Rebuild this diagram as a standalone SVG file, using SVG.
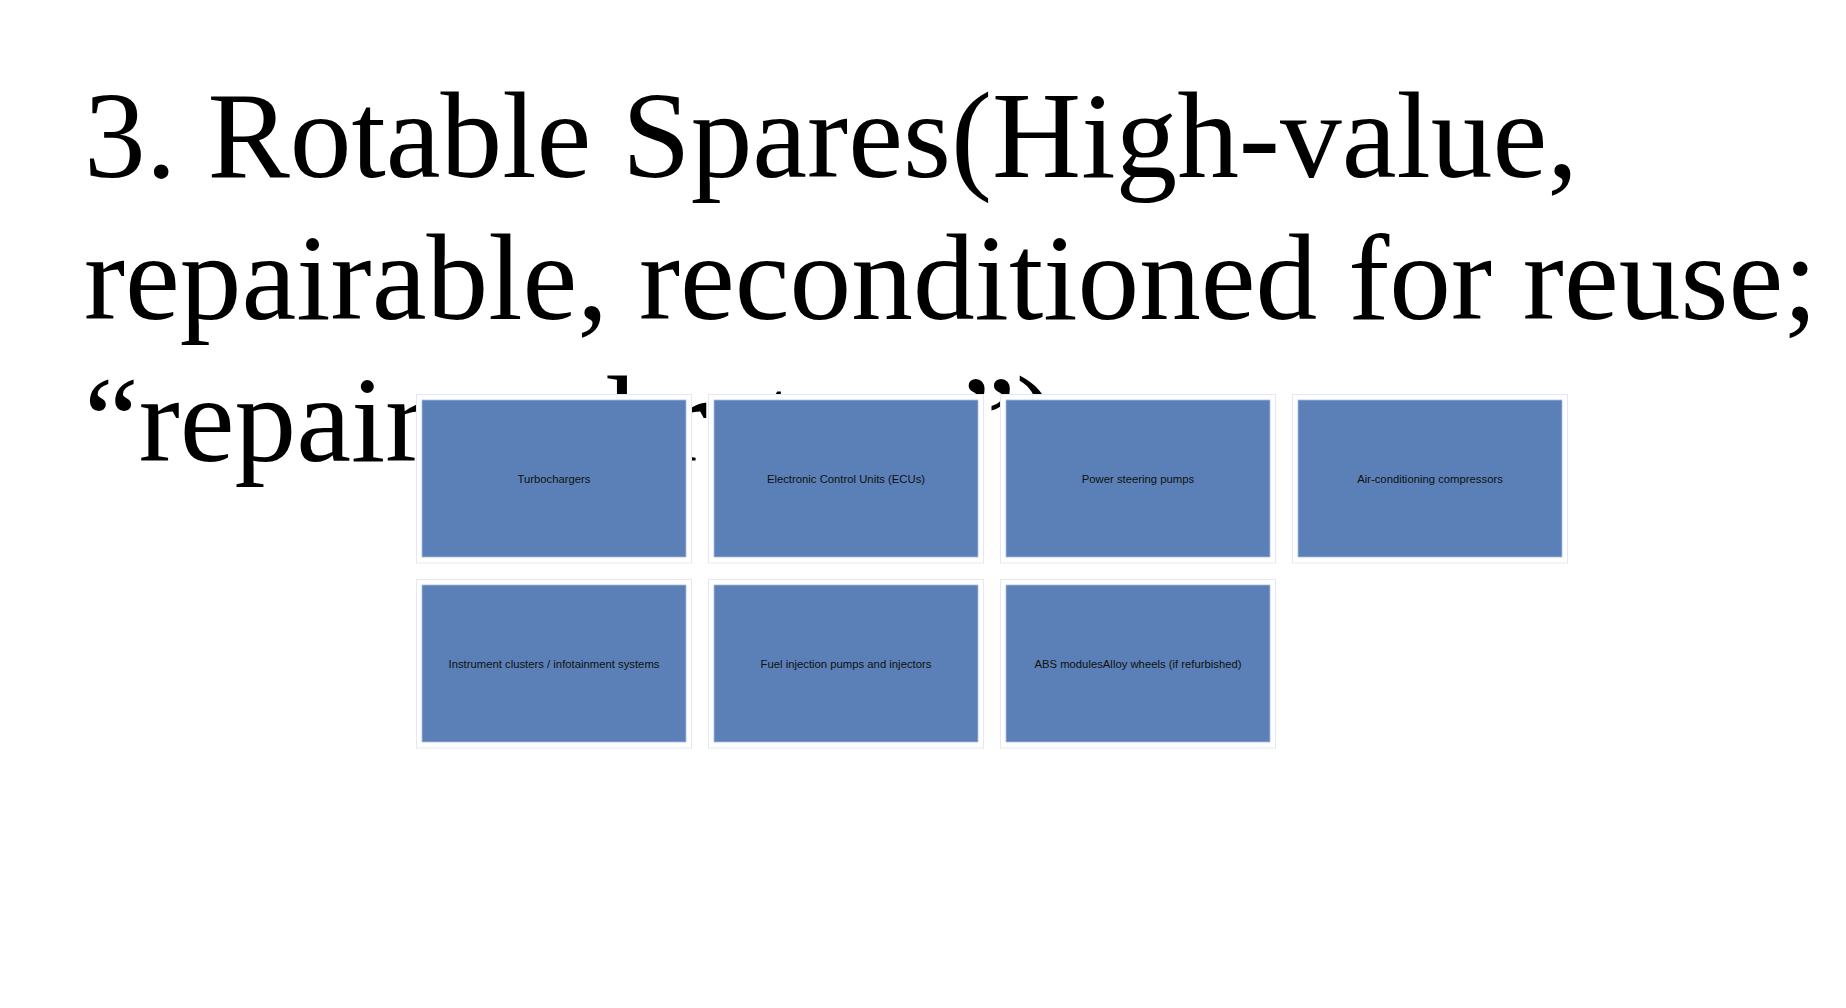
<svg xmlns="http://www.w3.org/2000/svg" width="1846" height="1008" viewBox="0 0 1846 1008">
  <style>
    .title { font-family: "Liberation Serif", "Times New Roman", serif; font-size: 123.4px; fill: #000000; }
    .frame { fill: #ffffff; stroke: #e4e9f1; stroke-width: 1; }
    .card { fill: #5a80b7; stroke: #a9bcd9; stroke-width: 0.8; }
    .label { font-family: "Liberation Sans", Arial, sans-serif; font-size: 11.3px; fill: #101010; text-anchor: middle; }
  </style>
  <rect x="0" y="0" width="1846" height="1008" fill="#ffffff"/>
  <g id="title">
    <text class="title" x="84" y="177">3. Rotable Spares(High-value,</text>
    <text class="title" x="84" y="318.5">repairable, reconditioned for reuse;</text>
    <text class="title" x="84" y="461">“repair and return”)</text>
  </g>
  <g id="connectors"></g>
  <g id="node-turbochargers">
    <rect class="frame" x="416.5" y="394.5" width="275" height="168.5"/>
    <rect class="card" x="422" y="400" width="264" height="157"/>
    <text class="label" x="554" y="482.5">Turbochargers</text>
  </g>
  <g id="node-ecus">
    <rect class="frame" x="708.5" y="394.5" width="275" height="168.5"/>
    <rect class="card" x="714" y="400" width="264" height="157"/>
    <text class="label" x="846" y="482.5">Electronic Control Units (ECUs)</text>
  </g>
  <g id="node-power-steering">
    <rect class="frame" x="1000.5" y="394.5" width="275" height="168.5"/>
    <rect class="card" x="1006" y="400" width="264" height="157"/>
    <text class="label" x="1138" y="482.5">Power steering pumps</text>
  </g>
  <g id="node-ac-compressors">
    <rect class="frame" x="1292.5" y="394.5" width="275" height="168.5"/>
    <rect class="card" x="1298" y="400" width="264" height="157"/>
    <text class="label" x="1430" y="482.5">Air-conditioning compressors</text>
  </g>
  <g id="node-instrument-clusters">
    <rect class="frame" x="416.5" y="579.5" width="275" height="168.5"/>
    <rect class="card" x="422" y="585" width="264" height="157"/>
    <text class="label" x="554" y="667.5">Instrument clusters / infotainment systems</text>
  </g>
  <g id="node-fuel-injection">
    <rect class="frame" x="708.5" y="579.5" width="275" height="168.5"/>
    <rect class="card" x="714" y="585" width="264" height="157"/>
    <text class="label" x="846" y="667.5">Fuel injection pumps and injectors</text>
  </g>
  <g id="node-abs-alloy">
    <rect class="frame" x="1000.5" y="579.5" width="275" height="168.5"/>
    <rect class="card" x="1006" y="585" width="264" height="157"/>
    <text class="label" x="1138" y="667.5">ABS modulesAlloy wheels (if refurbished)</text>
  </g>
</svg>
